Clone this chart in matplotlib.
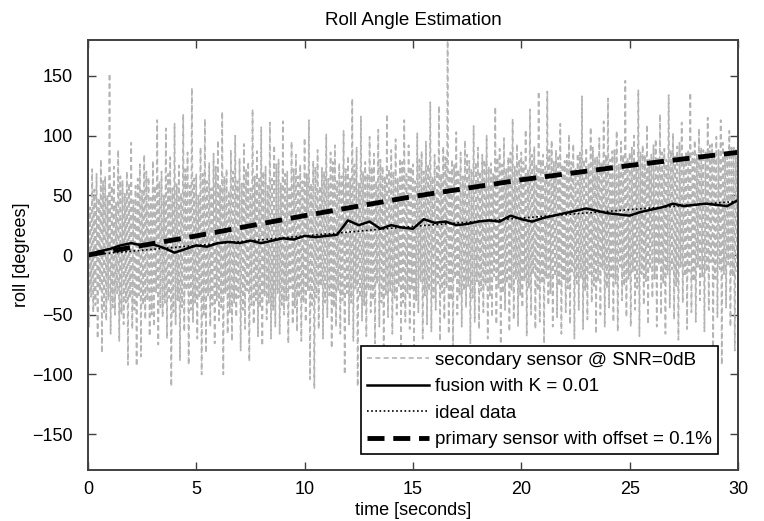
import matplotlib
matplotlib.use("Agg")
import matplotlib.pyplot as plt
import numpy as np

plt.rcParams['font.family'] = ['Liberation Sans', 'DejaVu Sans']

# secondary sensor, read as four interleaved runs of peaks and dips
# (t = 0.2*i, +0.05, +0.10, +0.15)
sec_highs = [45, 72, 68, 80, 66, 152, 74, 88, 62, 70,
             94, 58, 76, 84, 65, 79, 113, 70, 106, 82,
             110, 75, 118, 86, 140, 68, 90, 114, 77, 85,
             96, 120, 72, 88, 100, 81, 93, 78, 122, 87,
             107, 74, 111, 92, 80, 112, 70, 95, 84, 76,
             98, 113, 79, 88, 73, 101, 86, 92, 77, 104,
             83, 131, 90, 116, 78, 99, 85, 105, 74, 118,
             88, 97, 81, 113, 92, 76, 102, 87, 95, 128,
             84, 125, 91, 190, 80, 103, 86, 96, 79, 108,
             90, 84, 100, 77, 124, 89, 98, 82, 114, 93,
             86, 105, 122, 91, 137, 84, 137, 96, 88, 110,
             79, 101, 93, 85, 133, 90, 107, 82, 98, 112,
             131, 87, 104, 95, 146, 86, 100, 138, 92, 109,
             84, 97, 118, 89, 134, 102, 91, 111, 87, 136,
             96, 106, 88, 115, 93, 99, 113, 85, 104, 90]
sec_lows = [-60, -48, -70, -82, -55, -66, -50, -72, -58, -92,
            -62, -93, -85, -54, -68, -60, -75, -52, -70, -110,
            -58, -88, -64, -92, -56, -70, -100, -82, -60, -74,
            -55, -100, -66, -72, -52, -80, -62, -89, -58, -68,
            -76, -54, -70, -60, -66, -50, -74, -58, -64, -72,
            -56, -104, -112, -62, -70, -52, -78, -60, -66, -100,
            -58, -72, -110, -55, -68, -48, -74, -60, -80, -52,
            -66, -50, -76, -56, -62, -84, -48, -70, -58, -64,
            -46, -72, -54, -66, -80, -50, -60, -44, -74, -56,
            -62, -48, -70, -52, -58, -78, -46, -64, -54, -60,
            -44, -68, -50, -62, -56, -74, -42, -60, -52, -66,
            -48, -58, -70, -46, -62, -54, -40, -66, -50, -60,
            -44, -56, -64, -38, -52, -60, -46, -68, -42, -58,
            -36, -60, -50, -66, -44, -54, -71, -40, -62, -48,
            -56, -38, -64, -46, -88, -52, -92, -44, -60, -80]
sec_highs2 = [40, 55, 48, 62, 50, 58, 44, 66, 52, 60,
              46, 64, 54, 70, 48, 58, 62, 50, 68, 56,
              60, 52, 72, 58, 64, 50, 68, 62, 56, 74,
              58, 66, 54, 70, 62, 60, 72, 56, 66, 64,
              70, 58, 64, 76, 60, 68, 56, 72, 66, 62,
              68, 60, 74, 58, 70, 64, 78, 62, 66, 72,
              64, 76, 60, 70, 68, 74, 62, 80, 66, 72,
              70, 64, 78, 68, 74, 62, 80, 70, 76, 66,
              74, 68, 82, 70, 76, 72, 66, 84, 72, 78,
              70, 80, 74, 68, 82, 76, 72, 86, 74, 80,
              78, 72, 84, 76, 80, 74, 88, 78, 82, 76,
              84, 78, 72, 86, 80, 76, 90, 82, 78, 84,
              80, 88, 76, 84, 82, 90, 78, 86, 84, 80,
              92, 82, 86, 80, 88, 84, 94, 82, 88, 86,
              84, 90, 86, 92, 82, 88, 94, 86, 90, 88]
sec_lows2 = [-35, -42, -30, -48, -38, -44, -32, -50, -40, -36,
             -46, -34, -42, -38, -50, -32, -44, -40, -36, -48,
             -38, -44, -30, -46, -40, -36, -50, -34, -42, -38,
             -44, -32, -48, -40, -36, -46, -30, -42, -38, -44,
             -34, -40, -46, -32, -42, -38, -28, -44, -36, -40,
             -30, -42, -36, -26, -40, -34, -44, -30, -38, -32,
             -40, -28, -36, -42, -30, -38, -24, -40, -34, -30,
             -36, -26, -40, -32, -28, -38, -22, -34, -30, -36,
             -24, -32, -28, -38, -20, -34, -30, -26, -36, -22,
             -30, -26, -34, -18, -28, -32, -24, -30, -20, -34,
             -22, -28, -16, -30, -24, -20, -32, -18, -26, -22,
             -28, -14, -24, -20, -30, -16, -26, -22, -12, -28,
             -18, -24, -10, -26, -20, -14, -28, -16, -22, -12,
             -20, -8, -24, -16, -12, -26, -10, -18, -14, -22,
             -10, -18, -14, -6, -20, -12, -16, -8, -18, -14]

# fusion output every 0.5 s
fusion = [0, 3, 5, 8, 10, 8, 9, 6, 2, 5,
          8, 7, 10, 11, 10, 12, 10, 12, 14, 13,
          16, 15, 16, 17, 29, 25, 28, 22, 25, 23,
          22, 30, 27, 28, 25, 26, 28, 29, 28, 33,
          30, 28, 31, 33, 35, 37, 39, 37, 35, 34,
          33, 36, 38, 40, 43, 41, 42, 43, 42, 41, 46]

# ideal and primary every 5 s
ideal = [0, 8, 16, 24, 31, 38, 45]
primary = [0, 16, 33, 49, 63, 75, 86]

n = len(sec_highs)
sec = np.empty(4 * n)
sec[0::4] = sec_highs
sec[1::4] = sec_lows
sec[2::4] = sec_highs2
sec[3::4] = sec_lows2
t_sec = np.arange(4 * n) * 0.05
t_fus = np.arange(len(fusion)) * 0.5
t_slow = np.arange(len(ideal)) * 5.0

fig = plt.figure(figsize=(7.64, 5.21), dpi=100)
ax = fig.add_axes([0.115, 0.098, 0.851, 0.825])

ax.plot(t_sec, sec, color='#b4b4b4', lw=1.2, ls=(0, (3, 2)),
        label='secondary sensor @ SNR=0dB')
ax.plot(t_fus, fusion, color='black', lw=1.8, label='fusion with K = 0.01')
ax.plot(t_slow, ideal, color='black', lw=1.2, ls=(0, (1, 1.5)), label='ideal data')
ax.plot(t_slow, primary, color='black', lw=3.5, ls=(0, (3.5, 1.8)),
        label='primary sensor with offset = 0.1%')

ax.set_xlim(0, 30)
ax.set_ylim(-180, 180)
ax.set_xticks(range(0, 31, 5))
ax.set_yticks(range(-150, 151, 50))
ax.tick_params(direction='in', length=6, width=1, top=True, right=True,
               labelsize=13, colors='#404040', labelcolor='black')
ax.tick_params(axis='x', pad=8)
ax.tick_params(axis='y', pad=11)
for s in ax.spines.values():
    s.set_color('#404040')
    s.set_linewidth(1.4)

ax.set_title('Roll Angle Estimation', fontsize=13.5, pad=11)
ax.set_xlabel('time [seconds]', fontsize=13, labelpad=3)
ax.set_ylabel('roll [degrees]', fontsize=13, labelpad=1)

leg = ax.legend(loc='lower right', bbox_to_anchor=(0.969, 0.037), borderaxespad=0,
                fontsize=13.5, handlelength=3.3, handletextpad=0.35, labelspacing=0.5,
                fancybox=False, framealpha=1, edgecolor='black', borderpad=0.3)
leg.get_frame().set_linewidth(1.2)

fig.savefig('out.png', dpi=100)
